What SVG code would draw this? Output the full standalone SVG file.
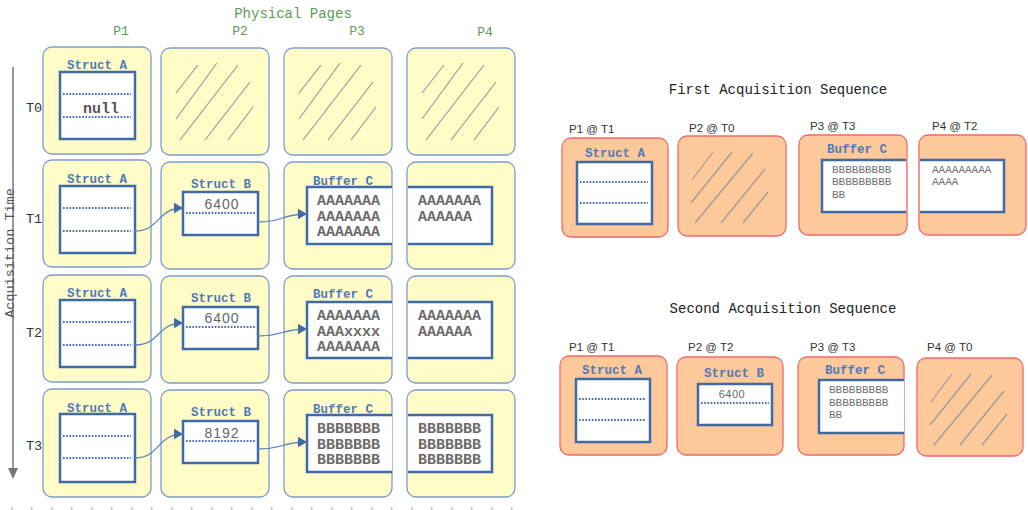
<svg xmlns="http://www.w3.org/2000/svg" width="1028" height="510" viewBox="0 0 1028 510">
<style>
.pg{fill:#fffcc8;stroke:#7d9ccb;stroke-width:1.3}
.po{fill:#fdc89a;stroke:#f06a6a;stroke-width:1.3}
.bx{fill:#fff;stroke:#3f6aa6;stroke-width:2.5}
.ln{fill:none;stroke:#3f6aa6;stroke-width:2.5}
.wf{fill:#fff;stroke:none}
.dot{stroke:#3f6ab4;stroke-width:2;stroke-dasharray:1.6 1.6;fill:none}
.ht{stroke:#9a9a9a;stroke-width:1.2;fill:none}
.lbl{font-family:"Liberation Mono",monospace;font-weight:bold;font-size:12.5px;fill:#4f7ab8;text-anchor:middle}
.big{font-family:"Liberation Mono",monospace;font-weight:bold;font-size:15px;fill:#6b6b6b}
.sm{font-family:"Liberation Mono",monospace;font-size:11px;fill:#707070}
.num{font-family:"Liberation Sans",sans-serif;font-size:14px;fill:#666;text-anchor:middle;letter-spacing:1px}
.gr{font-family:"Liberation Mono",monospace;font-size:13px;fill:#5a9a5a;text-anchor:middle}
.t{font-family:"Liberation Mono",monospace;font-size:13.5px;fill:#333}
.hd{font-family:"Liberation Mono",monospace;font-size:14px;fill:#222;text-anchor:middle}
.pl{font-family:"Liberation Sans",sans-serif;font-size:11.5px;fill:#333}
.cn{fill:none;stroke:#5a85bd;stroke-width:1.3}
</style>
<defs>
<marker id="ah" markerWidth="10" markerHeight="12" refX="9" refY="6" orient="auto" markerUnits="userSpaceOnUse">
<path d="M0,0.8 L9,6 L0,11.2 z" fill="#3f6aa6"/>
</marker>
<g id="hy" class="ht">
<path d="M15,45 L37,17 M15,71 L56,15 M19,92 L77,17 M44,92 L89,34 M67,92 L92,59"/>
</g>
<g id="ho" class="ht">
<path d="M14,44 L35,16 M13,67 L54,16 M17,87 L75,17 M43,87 L87,33 M65,87 L90,56"/>
</g>
</defs>

<!-- headers -->
<g id="headers">
<text class="gr" x="293" y="18" style="font-size:14px">Physical Pages</text>
<text class="gr" x="121" y="35">P1</text>
<text class="gr" x="240" y="35">P2</text>
<text class="gr" x="357" y="35">P3</text>
<text class="gr" x="485" y="36">P4</text>
</g>

<!-- time axis -->
<g id="axis">
<line x1="13" y1="67" x2="13" y2="470" stroke="#777" stroke-width="1.5"/>
<path d="M8,468 L18,468 L13,479 z" fill="#777"/>
<text class="t" x="14" y="253" transform="rotate(-90 14 253)" text-anchor="middle" style="font-size:13.5px;fill:#555">Acquisition Time</text>
<text class="t" x="26" y="112">T0</text>
<text class="t" x="26" y="223">T1</text>
<text class="t" x="26" y="337">T2</text>
<text class="t" x="26" y="450">T3</text>
</g>

<!-- Row T0 -->
<g id="r0p1">
<rect class="pg" x="43" y="47" width="108" height="107" rx="9"/>
<text class="lbl" x="97" y="69">Struct A</text>
<rect class="bx" x="60" y="72" width="75" height="67"/>
<line class="dot" x1="63" y1="94" x2="131" y2="94"/>
<line class="dot" x1="63" y1="117" x2="131" y2="117"/>
<text class="big" x="83" y="113" style="fill:#555">null</text>
</g>
<g id="r0p2"><rect class="pg" x="161" y="48" width="108" height="107" rx="9"/><use href="#hy" x="161" y="48"/></g>
<g id="r0p3"><rect class="pg" x="284" y="48" width="108" height="107" rx="9"/><use href="#hy" x="284" y="48"/></g>
<g id="r0p4"><rect class="pg" x="407" y="48" width="108" height="107" rx="9"/><use href="#hy" x="407" y="48"/></g>

<!-- Row T1 -->
<g id="r1p1">
<rect class="pg" x="43" y="160" width="108" height="107" rx="9"/>
<text class="lbl" x="97" y="183">Struct A</text>
<rect class="bx" x="60" y="186" width="75" height="67"/>
<line class="dot" x1="63" y1="208" x2="131" y2="208"/>
<line class="dot" x1="63" y1="231" x2="131" y2="231"/>
</g>
<g id="r1p2">
<rect class="pg" x="161" y="162" width="108" height="107" rx="9"/>
<text class="lbl" x="221" y="188">Struct B</text>
<rect class="bx" x="183" y="192" width="75" height="43"/>
<text class="num" x="222" y="209">6400</text>
<line class="dot" x1="186" y1="213" x2="255" y2="213"/>
</g>
<g id="r1p3">
<rect class="pg" x="284" y="162" width="108" height="107" rx="9"/>
<text class="lbl" x="343" y="185">Buffer C</text>
<rect class="wf" x="307" y="187" width="85" height="57"/>
<path class="ln" d="M392,187 H307 V244 H392"/>
<text class="big" x="317" y="205">AAAAAAA</text>
<text class="big" x="317" y="221">AAAAAAA</text>
<text class="big" x="317" y="236">AAAAAAA</text>
</g>
<g id="r1p4">
<rect class="pg" x="407" y="162" width="108" height="107" rx="9"/>
<rect class="wf" x="408" y="187" width="84" height="57"/>
<path class="ln" d="M408,187 H492 V244 H408"/>
<text class="big" x="418" y="205">AAAAAAA</text>
<text class="big" x="418" y="221">AAAAAA</text>
</g>

<!-- Row T2 -->
<g id="r2p1">
<rect class="pg" x="43" y="275" width="108" height="107" rx="9"/>
<text class="lbl" x="97" y="297">Struct A</text>
<rect class="bx" x="60" y="300" width="75" height="67"/>
<line class="dot" x1="63" y1="322" x2="131" y2="322"/>
<line class="dot" x1="63" y1="345" x2="131" y2="345"/>
</g>
<g id="r2p2">
<rect class="pg" x="161" y="276" width="108" height="107" rx="9"/>
<text class="lbl" x="221" y="302">Struct B</text>
<rect class="bx" x="183" y="307" width="75" height="42"/>
<text class="num" x="222" y="323">6400</text>
<line class="dot" x1="186" y1="327" x2="255" y2="327"/>
</g>
<g id="r2p3">
<rect class="pg" x="284" y="276" width="108" height="107" rx="9"/>
<text class="lbl" x="343" y="298">Buffer C</text>
<rect class="wf" x="307" y="302" width="85" height="56"/>
<path class="ln" d="M392,302 H307 V358 H392"/>
<text class="big" x="317" y="320">AAAAAAA</text>
<text class="big" x="317" y="336">AAAxxxx</text>
<text class="big" x="317" y="351">AAAAAAA</text>
</g>
<g id="r2p4">
<rect class="pg" x="407" y="276" width="108" height="107" rx="9"/>
<rect class="wf" x="408" y="302" width="84" height="56"/>
<path class="ln" d="M408,302 H492 V358 H408"/>
<text class="big" x="418" y="320">AAAAAAA</text>
<text class="big" x="418" y="336">AAAAAA</text>
</g>

<!-- Row T3 -->
<g id="r3p1">
<rect class="pg" x="43" y="389" width="108" height="108" rx="9"/>
<text class="lbl" x="97" y="412">Struct A</text>
<rect class="bx" x="60" y="414" width="75" height="68"/>
<line class="dot" x1="63" y1="436" x2="131" y2="436"/>
<line class="dot" x1="63" y1="458" x2="131" y2="458"/>
</g>
<g id="r3p2">
<rect class="pg" x="161" y="390" width="108" height="107" rx="9"/>
<text class="lbl" x="221" y="416">Struct B</text>
<rect class="bx" x="183" y="421" width="75" height="42"/>
<text class="num" x="222" y="438">8192</text>
<line class="dot" x1="186" y1="441" x2="255" y2="441"/>
</g>
<g id="r3p3">
<rect class="pg" x="284" y="390" width="108" height="107" rx="9"/>
<text class="lbl" x="343" y="413">Buffer C</text>
<rect class="wf" x="307" y="415" width="85" height="57"/>
<path class="ln" d="M392,415 H307 V472 H392"/>
<text class="big" x="317" y="433">BBBBBBB</text>
<text class="big" x="317" y="449">BBBBBBB</text>
<text class="big" x="317" y="464">BBBBBBB</text>
</g>
<g id="r3p4">
<rect class="pg" x="407" y="390" width="108" height="107" rx="9"/>
<rect class="wf" x="408" y="415" width="84" height="57"/>
<path class="ln" d="M408,415 H492 V472 H408"/>
<text class="big" x="418" y="433">BBBBBBB</text>
<text class="big" x="418" y="449">BBBBBBB</text>
<text class="big" x="418" y="464">BBBBBBB</text>
</g>

<!-- connectors -->
<g id="connectors">
<path class="cn" d="M135,231 C160,231 157,208 183,208" marker-end="url(#ah)"/>
<path class="cn" d="M258,222 C283,222 282,214 307,214" marker-end="url(#ah)"/>
<path class="cn" d="M135,345 C160,345 157,323 183,323" marker-end="url(#ah)"/>
<path class="cn" d="M258,336 C283,336 282,329 307,329" marker-end="url(#ah)"/>
<path class="cn" d="M135,458 C160,458 157,434 183,434" marker-end="url(#ah)"/>
<path class="cn" d="M258,449 C283,449 282,442 307,442" marker-end="url(#ah)"/>
</g>

<!-- bottom ticks -->
<g id="ticks">
<line x1="11" y1="508.5" x2="516" y2="508.5" stroke="#999" stroke-width="1.5" stroke-dasharray="1.5 18.5"/>
</g>

<!-- First acquisition sequence -->
<g id="seq1">
<text class="hd" x="778" y="94">First Acquisition Sequence</text>
<text class="pl" x="569" y="133">P1 @ T1</text>
<text class="pl" x="689" y="132">P2 @ T0</text>
<text class="pl" x="810" y="130">P3 @ T3</text>
<text class="pl" x="932" y="130">P4 @ T2</text>
</g>
<g id="s1p1">
<rect class="po" x="562" y="138" width="106" height="99" rx="9"/>
<text class="lbl" x="615" y="157">Struct A</text>
<rect class="bx" x="577" y="162" width="75" height="62"/>
<line class="dot" x1="580" y1="182" x2="648" y2="182"/>
<line class="dot" x1="580" y1="203" x2="648" y2="203"/>
</g>
<g id="s1p2"><rect class="po" x="678" y="136" width="108" height="100" rx="9"/><use href="#ho" x="678" y="136"/></g>
<g id="s1p3">
<rect class="po" x="799" y="135" width="108" height="100" rx="9"/>
<text class="lbl" x="857" y="153">Buffer C</text>
<rect class="wf" x="822" y="160" width="84" height="52"/>
<path class="ln" d="M906,160 H822 V212 H906"/>
<text class="sm" x="832" y="173">BBBBBBBBB</text>
<text class="sm" x="832" y="185">BBBBBBBBB</text>
<text class="sm" x="832" y="198">BB</text>
</g>
<g id="s1p4">
<rect class="po" x="919" y="135" width="107" height="100" rx="9"/>
<rect class="wf" x="920" y="160" width="84" height="52"/>
<path class="ln" d="M920,160 H1004 V212 H920"/>
<text class="sm" x="932" y="173">AAAAAAAAA</text>
<text class="sm" x="932" y="185">AAAA</text>
</g>

<!-- Second acquisition sequence -->
<g id="seq2">
<text class="hd" x="783" y="313">Second Acquisition Sequence</text>
<text class="pl" x="569" y="351">P1 @ T1</text>
<text class="pl" x="688" y="351">P2 @ T2</text>
<text class="pl" x="810" y="351">P3 @ T3</text>
<text class="pl" x="927" y="351">P4 @ T0</text>
</g>
<g id="s2p1">
<rect class="po" x="560" y="356" width="107" height="99" rx="9"/>
<text class="lbl" x="612" y="374">Struct A</text>
<rect class="bx" x="576" y="379" width="74" height="63"/>
<line class="dot" x1="579" y1="399" x2="646" y2="399"/>
<line class="dot" x1="579" y1="420" x2="646" y2="420"/>
</g>
<g id="s2p2">
<rect class="po" x="677" y="357" width="106" height="98" rx="9"/>
<text class="lbl" x="734" y="377">Struct B</text>
<rect class="bx" x="698" y="384" width="74" height="41"/>
<text class="num" x="732" y="398" style="font-size:11px;letter-spacing:0.5px">6400</text>
<line class="dot" x1="701" y1="403" x2="769" y2="403"/>
</g>
<g id="s2p3">
<rect class="po" x="798" y="357" width="106" height="98" rx="9"/>
<text class="lbl" x="855" y="374">Buffer C</text>
<rect class="wf" x="819" y="380" width="85" height="53"/>
<path class="ln" d="M904,380 H819 V433 H904"/>
<text class="sm" x="829" y="393">BBBBBBBBB</text>
<text class="sm" x="829" y="406">BBBBBBBBB</text>
<text class="sm" x="829" y="418">BB</text>
</g>
<g id="s2p4"><rect class="po" x="917" y="358" width="106" height="98" rx="9"/><use href="#ho" x="917" y="358"/></g>
</svg>
